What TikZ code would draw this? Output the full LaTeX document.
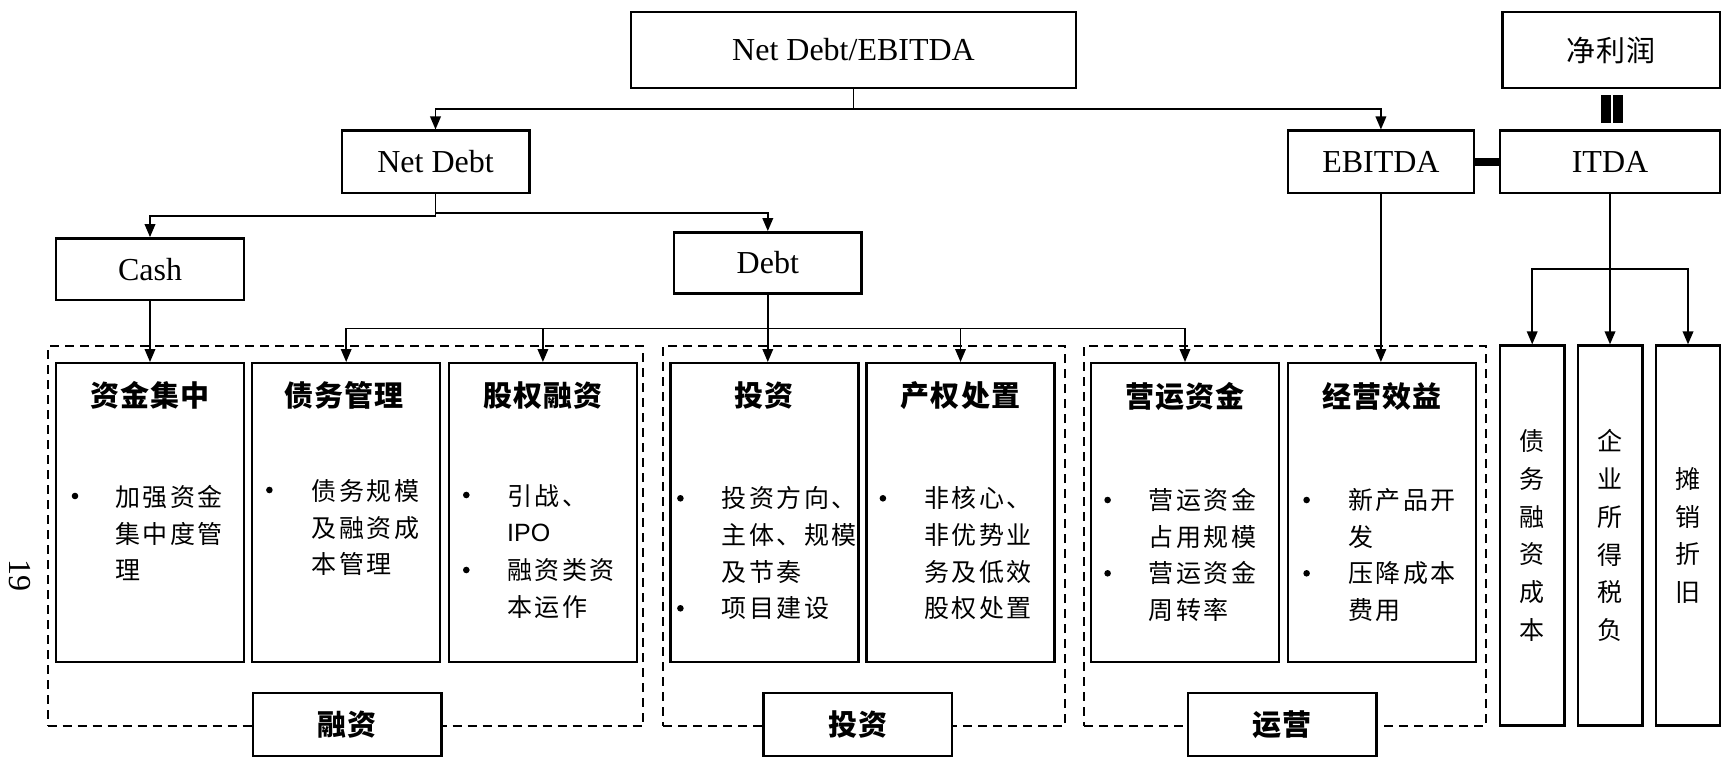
\documentclass[tikz,border=0pt]{standalone}
\usepackage{fontspec}
\setmainfont{Liberation Serif}
\newfontfamily\cjkbody[LetterSpace=10]{Noto Sans CJK SC}
\newfontfamily\cjkhead[LetterSpace=4]{Noto Sans CJK SC}
\newfontfamily\sansip{Liberation Sans}
\usetikzlibrary{arrows.meta,calc}
\newcommand\bodyfnt{\cjkbody\fontsize{25}{36.7}\selectfont}
\newcommand\headfnt{\cjkhead\bfseries\fontsize{29}{34}\selectfont}
\newcommand\plainhead{\cjkhead\fontsize{29}{34}\selectfont}
\newcommand\vertfnt{\cjkbody\fontsize{25}{37.7}\selectfont}
\newcommand\enfnt{\fontsize{32}{38}\selectfont}
\begin{document}
\begin{tikzpicture}[x=1pt,y=-1pt,
  every node/.style={inner sep=0pt},
  hbox/.style={draw,line width=2.4pt,fill=white,font=\enfnt},
  catbox/.style={draw,line width=2.4pt,fill=white,minimum width=188pt,minimum height=298.5pt},
  tagbox/.style={draw,line width=2.4pt,fill=white,minimum width=188.5pt,minimum height=63pt,font=\headfnt},
  sidebox/.style={draw,line width=2.4pt,fill=white,minimum width=64.5pt,minimum height=380pt,align=center,font=\vertfnt},
  group/.style={draw,line width=2pt,dash pattern=on 9pt off 6pt,minimum height=380pt},
  head/.style={font=\headfnt},
  item/.style={anchor=west,align=left,font=\bodyfnt},
  link/.style={line width=1.9pt,-{Triangle[length=13pt,width=10.5pt]}}
]
% canvas
\fill[white] (0,0) rectangle (1721,762);
\useasboundingbox (0,0) rectangle (1721,762);

% page number
\node[rotate=-90,font=\fontsize{32}{36}\selectfont] (pg) at (19.5,575) {19};

% dashed groups
\node[group,minimum width=595.5pt] (g1) at (345.25,536) {};
\node[group,minimum width=402pt] (g2) at (864,536) {};
\node[group,minimum width=402pt] (g3) at (1285,536) {};

% top levels
\node[hbox,minimum width=445pt,minimum height=76pt] (top) at (853.5,50) {Net Debt/EBITDA};
\node[hbox,minimum width=217.5pt,minimum height=76pt,font=\plainhead] (np) at (1611.2,50) {净利润};
\node[hbox,minimum width=187.6pt,minimum height=62.6pt] (nd) at (435.5,162) {Net Debt};
\node[hbox,minimum width=186.2pt,minimum height=62.6pt] (eb) at (1380.9,162) {EBITDA};
\node[hbox,minimum width=220pt,minimum height=62.6pt] (itda) at (1610,162) {ITDA};
\node[hbox,minimum width=188pt,minimum height=61.7pt] (cash) at (150,269.2) {Cash};
\node[hbox,minimum width=187.6pt,minimum height=61pt] (debt) at (767.8,262.8) {Debt};

% category boxes
\node[catbox] (b1) at (150,512.5) {};
\node[catbox] (b2) at (346.2,512.5) {};
\node[catbox] (b3) at (542.9,512.5) {};
\node[catbox] (b4) at (764.3,512.5) {};
\node[catbox] (b5) at (960.5,512.5) {};
\node[catbox] (b6) at (1185,512.5) {};
\node[catbox] (b7) at (1381.9,512.5) {};

% headings
\node[head] (t1) at (150,395.5) {资金集中};
\node[head] (t2) at (344,395.5) {债务管理};
\node[head] (t3) at (542.9,395.5) {股权融资};
\node[head] (t4) at (764.3,395.5) {投资};
\node[head] (t5) at (960.5,395.5) {产权处置};
\node[head] (t6) at (1185,396.5) {营运资金};
\node[head] (t7) at (1381.9,396.5) {经营效益};

% bullet items
\node[item] (i1) at (115,533) {加强资金\\集中度管\\理};
\node[item] (i2) at (311.4,527.5) {债务规模\\及融资成\\本管理};
\node[item] (i3a) at (507,513.3) {引战、\\{\sansip IPO}};
\node[item] (i3b) at (507,588.3) {融资类资\\本运作};
\node[item] (i4a) at (721.4,535) {投资方向、\\主体、规模\\及节奏};
\node[item] (i4b) at (721.4,608.3) {项目建设};
\node[item] (i5) at (924,553.3) {非核心、\\非优势业\\务及低效\\股权处置};
\node[item] (i6a) at (1148.5,518.3) {营运资金\\占用规模};
\node[item] (i6b) at (1148.5,591.7) {营运资金\\周转率};
\node[item] (i7a) at (1348,518.3) {新产品开\\发};
\node[item] (i7b) at (1348,591.7) {压降成本\\费用};
\foreach \p in {(75,496),(269.4,490),(466.3,495),(466.3,570),(680.4,498.3),(680.4,608.3),
                (882.9,498.3),(1107.6,500),(1107.6,573.3),(1306.6,500),(1306.6,573.3)}
  \fill \p circle (3.3);

% group tags
\node[tagbox] (l1) at (347.2,724.2) {融资};
\node[tagbox] (l2) at (857.7,724.2) {投资};
\node[tagbox] (l3) at (1282.2,724.2) {运营};

% ITDA components
\node[sidebox] (r1) at (1532.2,535.6) {债\\务\\融\\资\\成\\本};
\node[sidebox,minimum width=64.6pt] (r2) at (1610,535.6) {企\\业\\所\\得\\税\\负};
\node[sidebox,minimum width=64pt] (r3) at (1688,535.6) {摊\\销\\折\\旧};

% operators: EBITDA - ITDA = net profit
\fill ($(eb.east)+(0,-4.2)$) rectangle ($(itda.west)+(0,4.2)$);
\fill (1601,95) rectangle (1611,123.3);
\fill (1613,95) rectangle (1623,123.3);

% connectors
\coordinate (ytop) at (0,109);
\coordinate (ycash) at (0,216);
\coordinate (ydebt) at (0,212.7);
\coordinate (ybus) at (0,328.5);
\coordinate (yside) at (0,269.3);

\draw[link] (top.south) -- (top.south |- ytop) -| (nd.north);
\draw[link] (top.south |- ytop) -| (eb.north);
\draw[link] (nd.south) -- (nd.south |- ycash) -| (cash.north);
\draw[link] (nd.south) -- (nd.south |- ydebt) -| (debt.north);
\draw[link] (cash.south) -- (b1.north);
\draw[link] (debt.south) -- (debt.south |- b4.north);
\draw[link] (debt.south |- ybus) -| (b2.north);
\draw[link] (debt.south |- ybus) -| (b3.north);
\draw[link] (debt.south |- ybus) -| (b5.north);
\draw[link] (debt.south |- ybus) -| (b6.north);
\draw[link] (eb.south) -- (eb.south |- b7.north);
\draw[link] (itda.south) -- (r2.north);
\draw[link] (itda.south |- yside) -| (r1.north);
\draw[link] (itda.south |- yside) -| (r3.north);
\end{tikzpicture}
\end{document}
